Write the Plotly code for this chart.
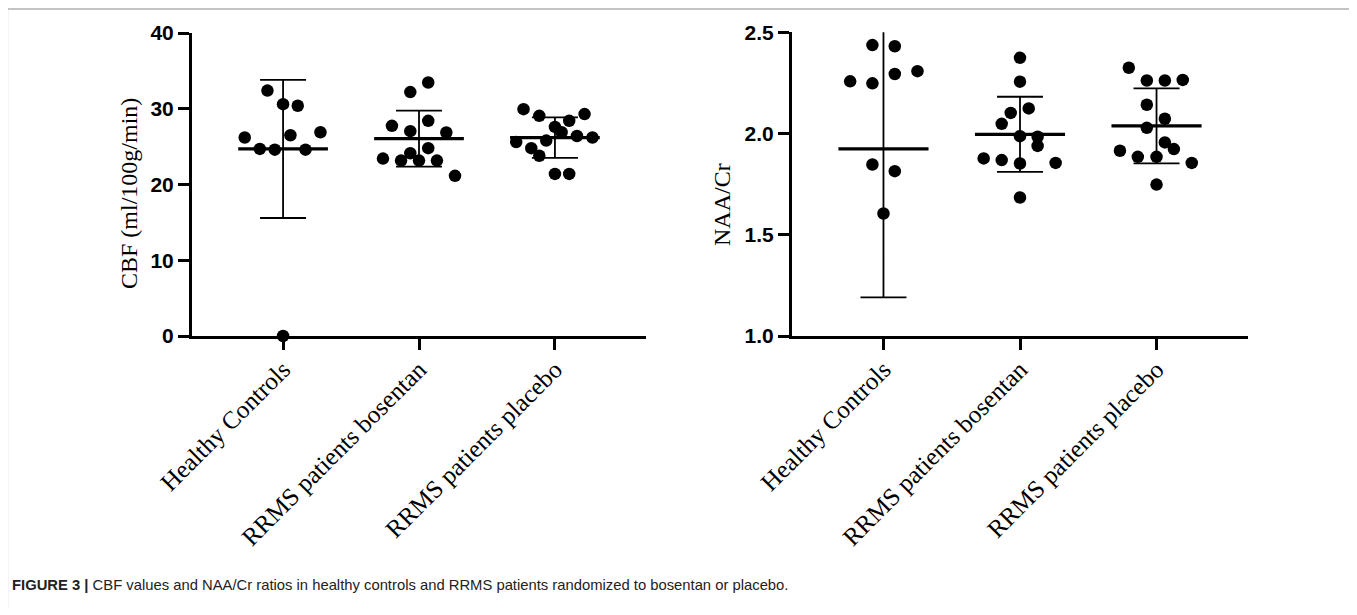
import numpy as np
import plotly.graph_objects as go

categories = ["Healthy Controls", "RRMS patients bosentan", "RRMS patients placebo"]

# CBF (ml/100g/min) values per group
cbf_hc = [32.4, 30.6, 30.4, 26.2, 26.5, 26.9, 24.7, 24.6, 24.6, 0.0]
cbf_bos = [33.46, 32.2, 27.74, 28.4, 27.04, 26.86, 24.8, 24.13, 23.42, 23.16, 23.16, 23.16, 21.14]
cbf_pla = [29.95, 29.06, 29.3, 28.4, 27.6, 26.9, 26.4, 26.2, 25.6, 25.8, 24.8, 23.8, 21.4, 21.4]
# horizontal scatter offsets (category units)
cbf_hc_off = [-0.115, 0.0, 0.108, -0.282, 0.054, 0.275, -0.171, -0.061, 0.165, 0.0]
cbf_bos_off = [0.068, -0.064, -0.199, 0.068, -0.064, 0.201, 0.068, -0.064, -0.265, -0.132, 0.0, 0.132, 0.265]
cbf_pla_off = [-0.231, -0.115, 0.218, 0.105, 0.0, 0.049, 0.162, 0.276, -0.285, -0.064, -0.174, -0.115, 0.0, 0.105]

# NAA/Cr ratios per group
naa_hc = [2.437, 2.431, 2.258, 2.248, 2.294, 2.308, 1.847, 1.814, 1.605, 0.0]
naa_bos = [2.374, 2.256, 2.124, 2.102, 2.048, 1.987, 1.984, 1.939, 1.877, 1.869, 1.852, 1.855, 1.684]
naa_pla = [2.325, 2.262, 2.262, 2.265, 2.142, 2.073, 2.028, 1.956, 1.923, 1.915, 1.885, 1.885, 1.855, 1.748]
naa_hc_off = [-0.081, 0.083, -0.244, -0.081, 0.083, 0.249, -0.081, 0.083, 0.0, 0.0]
naa_bos_off = [0.0, 0.0, 0.064, -0.068, -0.134, 0.0, 0.129, 0.129, -0.266, -0.134, 0.0, 0.261, 0.0]
naa_pla_off = [-0.203, -0.071, 0.061, 0.192, -0.071, 0.061, -0.071, 0.061, 0.127, -0.268, -0.137, 0.0, 0.258, 0.0]

cbf_ticks = [0, 10, 20, 30, 40]
naa_ticks = [1.0, 1.5, 2.0, 2.5]

# page body has an 8px margin; the figure is sized to fit inside the window
M = 8
W, H = 1357 - 2 * M, 615 - 2 * M


def px(x):
    return (x - M) / W


def py(y):
    return 1 - (y - M) / H


fig = go.Figure()

SERIF = "Liberation Serif, Times New Roman, serif"
SANS = "Liberation Sans, Arial, sans-serif"


def add_panel(groups, offsets, xa, ya, clip):
    xs_all, ys_all = [], []
    for i, (vals, offs) in enumerate(zip(groups, offsets)):
        v = np.array(vals, dtype=float)
        m = v.mean()
        sd = v.std(ddof=1)
        # mean line
        fig.add_trace(go.Scatter(x=[i - 0.33, i + 0.33], y=[m, m], mode="lines",
                                 line=dict(color="black", width=3.2), xaxis=xa, yaxis=ya,
                                 showlegend=False, hoverinfo="skip", cliponaxis=True))
        # SD error bar
        fig.add_trace(go.Scatter(x=[i], y=[m], mode="markers", marker=dict(size=1, opacity=0),
                                 error_y=dict(type="data", array=[sd], visible=True, color="black",
                                              thickness=1.8, width=23),
                                 xaxis=xa, yaxis=ya, showlegend=False, hoverinfo="skip",
                                 cliponaxis=True))
        xs_all += [i + o for o in offs]
        ys_all += list(vals)
    fig.add_trace(go.Scatter(x=xs_all, y=ys_all, mode="markers",
                             marker=dict(color="black", size=12.5, line=dict(width=0)),
                             xaxis=xa, yaxis=ya, showlegend=False, cliponaxis=clip))


add_panel([cbf_hc, cbf_bos, cbf_pla], [cbf_hc_off, cbf_bos_off, cbf_pla_off], "x", "y", False)
add_panel([naa_hc, naa_bos, naa_pla], [naa_hc_off, naa_bos_off, naa_pla_off], "x2", "y2", True)

xcommon = dict(range=[-0.67, 2.67], tickmode="array", tickvals=[0, 1, 2], ticktext=categories,
               tickangle=-45, showline=True, linewidth=3, linecolor="black", ticks="outside",
               ticklen=11, tickwidth=3, tickcolor="black", showgrid=False, zeroline=False,
               automargin=False, ticklabelstandoff=-5,
               tickfont=dict(family=SERIF, size=25, color="black"), fixedrange=True)
ycommon = dict(showline=True, linewidth=3, linecolor="black", ticks="outside", ticklen=11,
               tickwidth=3, tickcolor="black", showgrid=False, zeroline=False, automargin=False,
               tickfont=dict(family=SANS, size=21, color="black", weight="bold"))

fig.update_layout(
    width=W, height=H, margin=dict(l=0, r=0, t=0, b=0, pad=0), autosize=False,
    paper_bgcolor="white", plot_bgcolor="white",
    xaxis=dict(domain=[px(192), px(646)], anchor="y", **xcommon),
    yaxis=dict(domain=[py(336), py(33)], anchor="x", range=[0, 40],
               tickvals=cbf_ticks, **ycommon),
    xaxis2=dict(domain=[px(792), px(1248)], anchor="y2", **xcommon),
    yaxis2=dict(domain=[py(336), py(32.3)], anchor="x2", range=[1.0, 2.5],
                tickvals=naa_ticks, tickformat=".1f", **ycommon),
    annotations=[
        dict(text="CBF (ml/100g/min)", x=px(129), y=py(193), xref="paper", yref="paper",
             xanchor="center", yanchor="middle",
             textangle=-90, showarrow=False, font=dict(family=SERIF, size=24, color="black")),
        dict(text="NAA/Cr", x=px(722), y=py(205), xref="paper", yref="paper",
             xanchor="center", yanchor="middle",
             textangle=-90, showarrow=False, font=dict(family=SERIF, size=24, color="black")),
        dict(text="<b>FIGURE 3 |</b> CBF values and NAA/Cr ratios in healthy controls and RRMS patients randomized to bosentan or placebo.",
             x=px(10), y=py(585), xref="paper", yref="paper", xanchor="left", yanchor="middle",
             showarrow=False, font=dict(family=SANS, size=14.8, color="#222222")),
    ],
    shapes=[dict(type="rect", xref="paper", yref="paper", x0=px(7.5), x1=px(1353.5),
                 y0=-0.05, y1=py(9), line=dict(color="#8a8a8a", width=1.2))],
)

fig.write_html("out.html")
